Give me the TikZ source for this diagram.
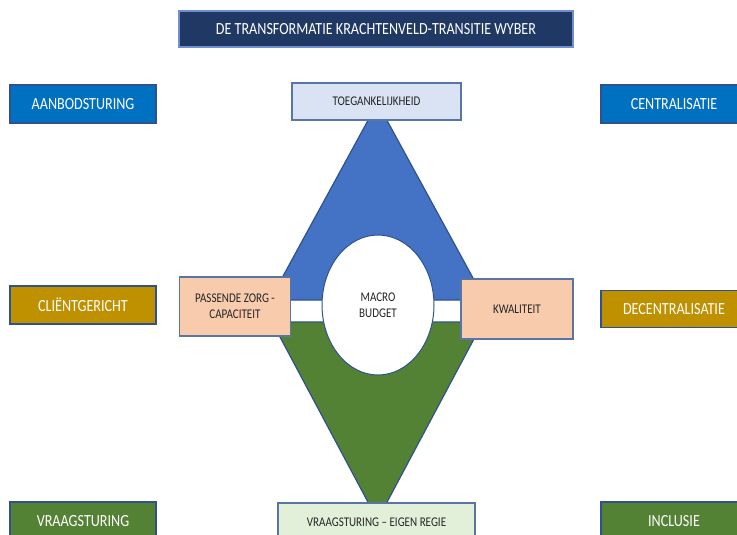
\documentclass[tikz,border=0pt]{standalone}
\usepackage{fontspec}
\setmainfont[FakeStretch=0.83]{Carlito}
\usetikzlibrary{shapes.geometric}
\definecolor{navy}{HTML}{203864}
\definecolor{edge}{HTML}{2F528F}
\definecolor{lightedge}{HTML}{6F8FCF}
\definecolor{sblue}{HTML}{0070C0}
\definecolor{sgold}{HTML}{BF9000}
\definecolor{sgreen}{HTML}{548235}
\definecolor{tblue}{HTML}{4472C4}
\definecolor{peach}{HTML}{F8CBAD}
\definecolor{paleblue}{HTML}{DAE3F3}
\definecolor{palegreen}{HTML}{E2F0D9}
\definecolor{ink}{HTML}{262626}

\begin{document}
\begin{tikzpicture}
    [x=1pt,y=-1pt,
    titlebox/.style={rectangle,draw=lightedge,fill=navy,line width=1.2pt,
    text=white,font=\fontsize{17}{19}\selectfont,
    inner sep=0pt,minimum width=394pt,minimum height=36pt},
    sidebox/.style={rectangle,draw=edge,fill=#1,line width=1.2pt,
    text=white,font=\fontsize{17}{19}\selectfont,
    inner sep=0pt,minimum width=146pt,minimum height=38pt},
    keybox/.style={rectangle,draw=edge!80,fill=#1,line width=1.2pt,
    text=ink,font=\fontsize{13.3}{16}\selectfont,align=center,
    inner sep=0pt,minimum height=37pt},
    wedge/.style={draw=edge,fill=#1,line width=1.2pt,line join=round}]
    \clip (0,0) rectangle (737,535);
    % triangles
    \draw[wedge=tblue] (377.5,103) -- (485,300) -- (270,300) -- cycle;
    \draw[wedge=sgreen] (272,322) -- (483,322) -- (377.5,520) -- cycle;
    \node[ellipse,draw=edge,fill=white,line width=1pt,inner sep=0pt,
    minimum width=112pt,minimum height=140pt,align=center,text=ink,
    font=\fontsize{13.3}{16}\selectfont] (budget) at (378,305) {MACRO\\BUDGET};
    % middle boxes
    \node[titlebox] (title) at (376,29) {DE TRANSFORMATIE KRACHTENVELD-TRANSITIE WYBER};
    \node[keybox=paleblue,minimum width=169pt] (access) at (376.5,101.5) {TOEGANKELIJKHEID};
    \node[keybox=peach,minimum width=111pt,minimum height=59pt] (care) at (235,306.5) {PASSENDE ZORG -\\CAPACITEIT};
    \node[keybox=peach,minimum width=112pt,minimum height=60pt] (quality) at (517,309) {KWALITEIT};
    \node[keybox=palegreen,minimum width=197pt,minimum height=38pt] (selfdir) at (376.5,522) {VRAAGSTURING -- EIGEN REGIE};
    % side boxes
    \node[sidebox=sblue] (supply) at (83,104) {AANBODSTURING};
    \node[sidebox=sgold] (client) at (83,305) {CLIËNTGERICHT};
    \node[sidebox=sgreen] (demand) at (83,521) {VRAAGSTURING};
    \node[sidebox=sblue] (central) at (674,104) {CENTRALISATIE};
    \node[sidebox=sgold,minimum height=37pt] (decentral) at (674,309) {DECENTRALISATIE};
    \node[sidebox=sgreen] (inclusion) at (674,521) {INCLUSIE};
\end{tikzpicture}
\end{document}
